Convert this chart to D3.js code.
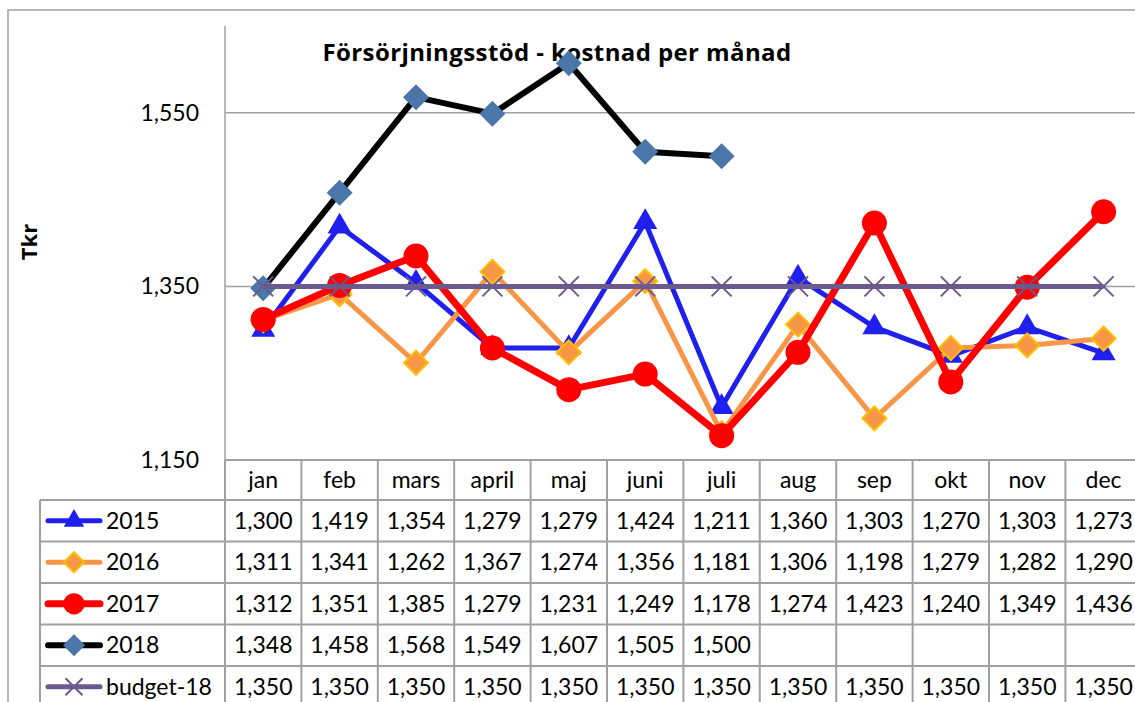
<!DOCTYPE html>
<html><head><meta charset="utf-8">
<script src="https://cdn.jsdelivr.net/npm/d3@7"></script>
<style>body{margin:0;background:#fff}svg{display:block}text{font-family:Lato,"Open Sans",sans-serif;fill:#000}</style>
</head><body><svg id="c" width="1135" height="702"></svg>
<script>
const months = ["jan","feb","mars","april","maj","juni","juli","aug","sep","okt","nov","dec"];
const s2015 = [1300,1419,1354,1279,1279,1424,1211,1360,1303,1270,1303,1273];
const s2016 = [1311,1341,1262,1367,1274,1356,1181,1306,1198,1279,1282,1290];
const s2017 = [1312,1351,1385,1279,1231,1249,1178,1274,1423,1240,1349,1436];
const s2018 = [1348,1458,1568,1549,1607,1505,1500,null,null,null,null,null];
const sBudget = [1350,1350,1350,1350,1350,1350,1350,1350,1350,1350,1350,1350];
const yTicks = [1150,1350,1550];
const seriesNames = ["2015","2016","2017","2018","budget-18"];
const title = "Försörjningsstöd - kostnad per månad";
const yTitle = "Tkr";

const series = [
  {name:seriesNames[0], values:s2015, color:"#1f1fee", lw:5, marker:"triangle", fill:"#1f1fee", stroke:"none"},
  {name:seriesNames[1], values:s2016, color:"#f79646", lw:5, marker:"diamond", size:24, fill:"#f79646", stroke:"#ffc000"},
  {name:seriesNames[2], values:s2017, color:"#ff0000", lw:7, marker:"circle", fill:"#ff0000", stroke:"none"},
  {name:seriesNames[3], values:s2018, color:"#000000", lw:6, marker:"diamond", size:26, fill:"#4a76aa", stroke:"none"},
  {name:seriesNames[4], values:sBudget, color:"#6a5a8e", lw:5, marker:"x", fill:"none", stroke:"#6a5a8e"}
];

const svg = d3.select("#c");
const gridC = "#a0a0a0";
const fs = "23px";
const pLeft = 225, colW = 76.4, pTop = 26, pBottom = 460;
const x = d3.scaleBand().domain(months).range([pLeft, pLeft + colW*months.length]);
const y = d3.scaleLinear().domain([1150,1650]).range([pBottom, pTop]);

// outer border
svg.append("rect").attr("x",8).attr("y",10).attr("width",1200).attr("height",800)
  .attr("fill","none").attr("stroke",gridC).attr("stroke-width",1.5);

// gridlines
svg.append("g").selectAll("line").data(yTicks).join("line")
  .attr("x1",pLeft).attr("x2",x.range()[1]).attr("y1",d=>y(d)).attr("y2",d=>y(d))
  .attr("stroke",gridC).attr("stroke-width",1.5);

// y axis
const yAxis = d3.axisLeft(y).tickValues(yTicks).tickFormat(d3.format(",")).tickSize(0).tickPadding(26);
const ga = svg.append("g").attr("transform",`translate(${pLeft},0)`).call(yAxis);
ga.select(".domain").attr("stroke",gridC).attr("stroke-width",1.5).attr("d",`M0,${pTop}V500`);
ga.selectAll("text").style("font-family","Lato").style("font-size",fs).attr("fill","#000");

// title
svg.append("text").attr("x",557).attr("y",61).attr("text-anchor","middle")
  .style("font-family","'Open Sans'").style("font-size","24px").style("letter-spacing","0.4px").style("font-weight","bold").text(title);
svg.append("text").attr("transform","translate(37,242) rotate(-90)").attr("text-anchor","middle")
  .style("font-family","'Open Sans'").style("font-size","22px").style("font-weight","bold").text(yTitle);

// table
const rowH0 = 40, rowH = 41.5;
const tableRight = x.range()[1];
const tg = svg.append("g");
tg.append("line").attr("x1",pLeft).attr("x2",tableRight).attr("y1",pBottom).attr("y2",pBottom).attr("stroke",gridC).attr("stroke-width",2);
const rowTops = seriesNames.map((d,i)=>pBottom+rowH0+i*rowH);
tg.selectAll("line.h").data(rowTops.concat([pBottom+rowH0+5*rowH])).join("line").attr("class","h")
  .attr("x1",40).attr("x2",tableRight).attr("y1",d=>d).attr("y2",d=>d).attr("stroke",gridC).attr("stroke-width",2);
tg.append("line").attr("x1",40).attr("x2",40).attr("y1",rowTops[0]).attr("y2",720).attr("stroke",gridC).attr("stroke-width",2);
tg.selectAll("line.v").data(months.map(m=>x(m)+colW)).join("line").attr("class","v")
  .attr("x1",d=>d).attr("x2",d=>d).attr("y1",pBottom).attr("y2",720).attr("stroke",gridC).attr("stroke-width",2);
tg.append("line").attr("x1",pLeft).attr("x2",pLeft).attr("y1",pBottom).attr("y2",720).attr("stroke",gridC).attr("stroke-width",2);

tg.selectAll("text.m").data(months).join("text").attr("class","m")
  .attr("x",d=>x(d)+colW/2).attr("y",pBottom+rowH0/2+8).attr("text-anchor","middle")
  .style("font-size",fs).text(d=>d);

const fmt = d3.format(",");
function markerPath(s, sel, cx, cy, scale){
  scale = scale||1;
  if (s.marker==="triangle"){
    sel.append("path").attr("d",d3.symbol(d3.symbolTriangle, 250*scale*scale)()).attr("transform",`translate(${cx},${cy})`).attr("fill",s.fill);
  } else if (s.marker==="circle"){
    sel.append("circle").attr("cx",cx).attr("cy",cy).attr("r",12.5*scale).attr("fill",s.fill);
  } else if (s.marker==="diamond"){
    const h = s.size/2*scale;
    sel.append("path").attr("d",`M${cx},${cy-h}L${cx+h},${cy}L${cx},${cy+h}L${cx-h},${cy}Z`).attr("fill",s.fill)
      .attr("stroke",s.stroke).attr("stroke-width",2);
  } else if (s.marker==="x"){
    const h = 10*scale;
    sel.append("path").attr("d",`M${cx-h},${cy-h}L${cx+h},${cy+h}M${cx-h},${cy+h}L${cx+h},${cy-h}`).attr("stroke",s.stroke).attr("stroke-width",2).attr("fill","none");
  }
}

series.forEach((s,i)=>{
  const ry = rowTops[i];
  const cy = ry + rowH/2;
  const lg = tg.append("g");
  lg.append("line").attr("x1",48).attr("x2",100).attr("y1",cy).attr("y2",cy).attr("stroke",s.color).attr("stroke-width",s.lw).attr("stroke-linecap","round");
  markerPath(s, lg, 74, cy, 0.85);
  lg.append("text").attr("x",106).attr("y",cy+8).style("font-size",fs).text(s.name);
  tg.selectAll(null).data(s.values.map((v,j)=>({v,m:months[j]})).filter(d=>d.v!=null)).join("text")
    .attr("x",d=>x(d.m)+colW/2).attr("y",cy+8).attr("text-anchor","middle").style("font-size",fs).text(d=>fmt(d.v));
});

// series lines
const plot = svg.append("g");
series.forEach(s=>{
  const pts = s.values.map((v,j)=>({v,m:months[j]}));
  const line = d3.line().defined(d=>d.v!=null).x(d=>x(d.m)+colW/2).y(d=>y(d.v));
  const g = plot.append("g");
  g.append("path").datum(pts).attr("d",line).attr("fill","none").attr("stroke",s.color).attr("stroke-width",s.lw).attr("stroke-linejoin","round");
  pts.filter(d=>d.v!=null).forEach(d=>markerPath(s, g, x(d.m)+colW/2, y(d.v), 1));
});
</script></body></html>
